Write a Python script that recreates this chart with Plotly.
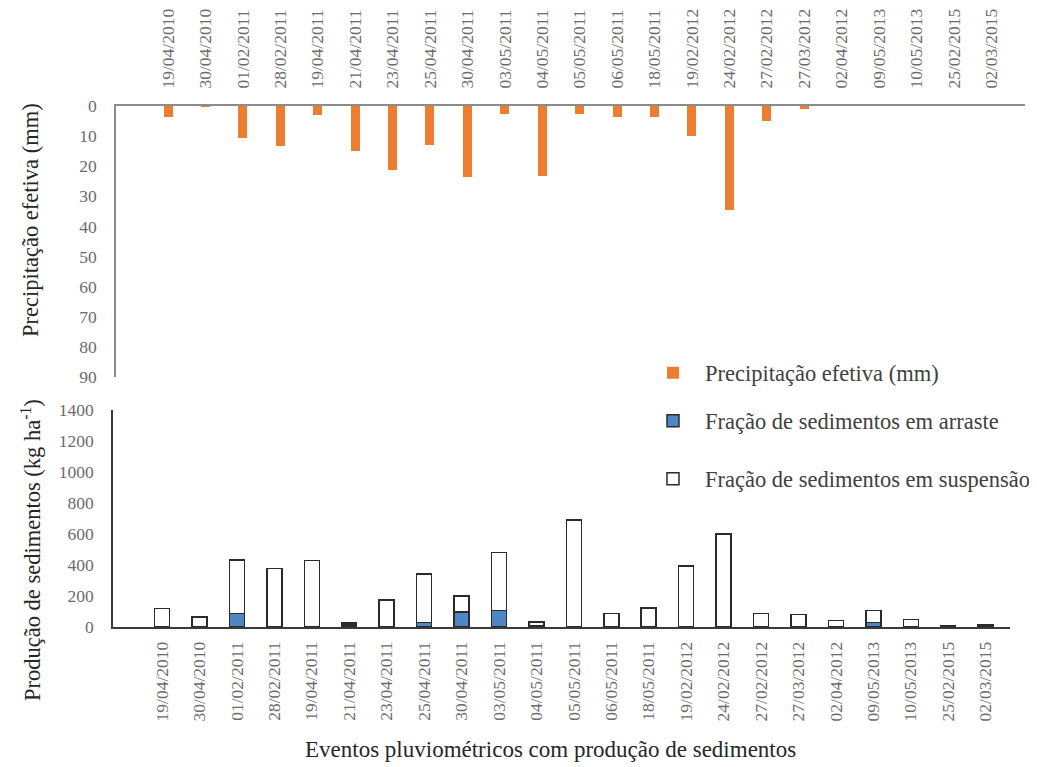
import plotly.graph_objects as go

dates = ["19/04/2010", "30/04/2010", "01/02/2011", "28/02/2011", "19/04/2011",
         "21/04/2011", "23/04/2011", "25/04/2011", "30/04/2011", "03/05/2011",
         "04/05/2011", "05/05/2011", "06/05/2011", "18/05/2011", "19/02/2012",
         "24/02/2012", "27/02/2012", "27/03/2012", "02/04/2012", "09/05/2013",
         "10/05/2013", "25/02/2015", "02/03/2015"]

precipitacao = [3.5, 0.3, 10.5, 13.3, 3.1, 15.0, 21.4, 12.8, 23.5, 2.8,
                23.3, 2.8, 3.5, 3.5, 9.8, 34.5, 5.0, 0.9, 0, 0, 0, 0, 0]

arraste = [0, 4, 87, 2, 4, 12, 3, 28, 97, 108, 10, 4, 2, 4, 2, 2, 2, 2, 2,
           28, 2, 4, 10]
suspensao = [119, 61, 345, 376, 424, 14, 170, 313, 102, 374, 22, 687, 85,
             119, 391, 599, 85, 78, 41, 80, 46, 4, 6]

# page is 1037x767; the page body adds an 8px offset, so the figure is
# sized to fill the remaining area and page pixels are mapped accordingly
OFF = 8
W, H = 1037 - OFF, 767 - OFF
FONT = "Liberation Serif"
TICK_COLOR = "#6b6b6b"


def px_x(p):
    return (p - OFF) / W


def px_y(p):
    return 1 - (p - OFF) / H


fig = go.Figure()

fig.add_trace(go.Bar(
    x=dates, y=precipitacao, xaxis="x", yaxis="y",
    name="Precipitação efetiva (mm)", width=0.24,
    marker=dict(color="#ED7D31", line=dict(width=0)),
    legend="legend", showlegend=True,
))
fig.add_trace(go.Bar(
    x=dates, y=arraste, xaxis="x2", yaxis="y2",
    name="Fração de sedimentos em arraste", width=0.4,
    marker=dict(color="#4F86C6", line=dict(color="#2b2b2b", width=1.5)),
    legend="legend2", showlegend=True,
))
fig.add_trace(go.Bar(
    x=dates, y=suspensao, xaxis="x2", yaxis="y2",
    name="Fração de sedimentos em suspensão", width=0.4,
    marker=dict(color="#ffffff", line=dict(color="#2b2b2b", width=1.5)),
    legend="legend3", showlegend=True,
))

tickfont = dict(family=FONT, size=17.5, color=TICK_COLOR)
legfont = dict(family=FONT, size=22.5, color="#404040")
LEG_X = px_x(641)

fig.update_layout(
    width=W, height=H,
    margin=dict(l=0, r=0, t=0, b=0, autoexpand=False),
    paper_bgcolor="white", plot_bgcolor="white",
    barmode="stack",
    showlegend=True,
    font=dict(family=FONT, color="#404040"),
    xaxis=dict(
        domain=[px_x(116), px_x(1025)], anchor="y", side="top",
        type="category", range=[-1.39, 22.9], automargin=False,
        showline=True, linecolor="#8c8c8c", linewidth=2,
        ticks="", tickangle=-90, tickfont=tickfont, ticklabelstandoff=12,
        showgrid=False, zeroline=False,
    ),
    yaxis=dict(
        domain=[px_y(377), px_y(106)], anchor="x", automargin=False,
        range=[90, 0], dtick=10, tick0=0,
        showline=True, linecolor="#8c8c8c", linewidth=1.5,
        ticks="", tickfont=tickfont, ticklabelstandoff=14,
        showgrid=False, zeroline=False,
    ),
    xaxis2=dict(
        domain=[px_x(113), px_x(1010)], anchor="y2", automargin=False,
        type="category", range=[-1.31, 22.65],
        showline=True, linecolor="#3a3a3a", linewidth=1.5,
        ticks="", tickangle=-90, tickfont=tickfont, ticklabelstandoff=6,
        showgrid=False, zeroline=False,
    ),
    yaxis2=dict(
        domain=[px_y(627), px_y(410)], anchor="x2", automargin=False,
        range=[0, 1400], dtick=200, tick0=0,
        showline=True, linecolor="#3a3a3a", linewidth=1.5,
        ticks="", tickfont=tickfont, ticklabelstandoff=14,
        showgrid=False, zeroline=False,
    ),
    legend=dict(x=LEG_X, y=px_y(373), xanchor="left", yanchor="middle",
                font=legfont, itemwidth=54, bgcolor="rgba(0,0,0,0)"),
    legend2=dict(x=LEG_X, y=px_y(421), xanchor="left", yanchor="middle",
                 font=legfont, itemwidth=54, bgcolor="rgba(0,0,0,0)"),
    legend3=dict(x=LEG_X, y=px_y(479), xanchor="left", yanchor="middle",
                 font=legfont, itemwidth=54, bgcolor="rgba(0,0,0,0)"),
    annotations=[
        dict(text="Precipitação efetiva (mm)", x=px_x(31), y=px_y(220),
             xref="paper", yref="paper", xanchor="center", yanchor="middle",
             showarrow=False, textangle=-90,
             font=dict(family=FONT, size=22.5, color="#262626")),
        dict(text="Produção de sedimentos (kg ha<sup>-1</sup>)", x=px_x(31), y=px_y(550),
             xref="paper", yref="paper", xanchor="center", yanchor="middle",
             showarrow=False, textangle=-90,
             font=dict(family=FONT, size=22.5, color="#262626")),
        dict(text="Eventos pluviométricos com produção de sedimentos",
             x=px_x(550), y=px_y(749), xref="paper", yref="paper",
             xanchor="center", yanchor="middle", showarrow=False,
             font=dict(family=FONT, size=23, color="#262626")),
    ],
)

fig.write_html("out.html")
